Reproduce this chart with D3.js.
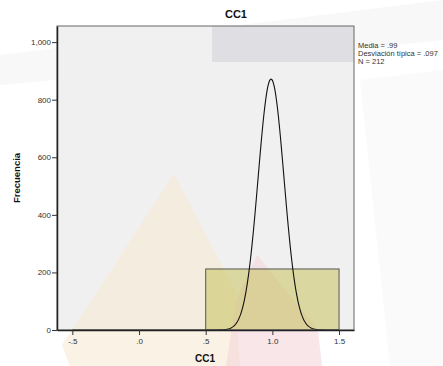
<!DOCTYPE html>
<html><head><meta charset="utf-8">
<script src="https://cdn.jsdelivr.net/npm/d3@7"></script>
<style>body{margin:0;background:#fff}svg{display:block}text{font-family:"Liberation Sans",Arial,sans-serif}</style>
</head><body>
<script>
// Data
const binStarts = [0.5];
const binEnds = [1.5];
const binCounts = [212];
const xTicks = [-0.5, 0, 0.5, 1.0, 1.5];
const xTickLabels = ["-.5", ".0", ".5", "1.0", "1.5"];
const yTicks = [0, 200, 400, 600, 800, 1000];
const yTickLabels = ["0", "200", "400", "600", "800", "1,000"];
const statMean = 0.99, statSD = 0.097, statN = 212;
const legendLines = ["Media = .99", "Desviación típica = .097", "N = 212"];

const W = 443, H = 366;
const svg = d3.select("body").append("svg").attr("width", W).attr("height", H);
const L = 57, R = 354, T = 26, B = 330;
const x = d3.scaleLinear().domain([-0.615, 1.612]).range([L, R]);
const y = d3.scaleLinear().domain([0, 1056]).range([B, T]);

// faint watermark background
svg.append("rect").attr("x", 0).attr("y", 0).attr("width", W).attr("height", H).attr("fill", "#fff");
svg.append("polygon").attr("points", "0,55 200,30 443,0 443,40 160,70 0,85").attr("fill", "#f8f8f8");
svg.append("polygon").attr("points", "360,80 443,70 443,366 390,366").attr("fill", "#fafafa");

// plot area
svg.append("rect").attr("x", L).attr("y", T).attr("width", R - L).attr("height", B - T).attr("fill", "#f0f0f0");
svg.append("rect").attr("x", 212).attr("y", T).attr("width", R - 212).attr("height", 36).attr("fill", "#dfdfe3");
// watermark shapes
svg.append("polygon").attr("points", "174,174 235,290 240,366 70,366 62,345").attr("fill", "#f7e9d2").attr("opacity", 0.6);
svg.append("polygon").attr("points", "257,255 318,330 322,366 226,366 236,300").attr("fill", "#f5d6db").attr("opacity", 0.6);

// bars
svg.selectAll("rect.bar").data(binCounts).join("rect").attr("class", "bar")
  .attr("x", (d, i) => x(binStarts[i])).attr("y", d => y(d))
  .attr("width", (d, i) => x(binEnds[i]) - x(binStarts[i])).attr("height", d => y(0) - y(d))
  .attr("fill", "#c9c25e").attr("fill-opacity", 0.55).attr("stroke", "#555").attr("stroke-width", 1);

// normal curve from stats
const bw = binEnds[0] - binStarts[0];
const pts = d3.range(-0.5, 1.5001, 0.005).map(v => [v, statN * bw / (statSD * Math.sqrt(2 * Math.PI)) * Math.exp(-0.5 * ((v - statMean) / statSD) ** 2)]);
svg.append("path").datum(pts).attr("fill", "none").attr("stroke", "#111").attr("stroke-width", 1.1)
  .attr("d", d3.line().x(d => x(d[0])).y(d => y(d[1])));

// frame
svg.append("rect").attr("x", L).attr("y", T).attr("width", R - L).attr("height", B - T).attr("fill", "none").attr("stroke", "#666").attr("stroke-width", 1);

// axes
const yAxis = d3.axisLeft(y).tickValues(yTicks).tickFormat((d, i) => yTickLabels[i]).tickSize(5).tickSizeOuter(0);
const gy = svg.append("g").attr("transform", `translate(${L},0)`).call(yAxis);
const xAxis = d3.axisBottom(x).tickValues(xTicks).tickFormat((d, i) => xTickLabels[i]).tickSize(5).tickSizeOuter(0);
const gx = svg.append("g").attr("transform", `translate(0,${B})`).call(xAxis);
[gy, gx].forEach(g => {
  g.select(".domain").attr("stroke", "#222").attr("stroke-width", 1.5);
  g.selectAll(".tick line").attr("stroke", "#333");
  g.selectAll(".tick text").attr("fill", "#333").style("font-size", "8px").style("font-family", '"Liberation Sans",Arial,sans-serif');
});
gy.selectAll(".tick text").attr("x", -6);
gx.selectAll(".tick text").attr("y", 8);

// titles
svg.append("text").attr("x", 236).attr("y", 18).attr("text-anchor", "middle").style("font-size", "11px").style("font-weight", "bold").attr("fill", "#111").text("CC1");
svg.append("text").attr("x", 205).attr("y", 362).attr("text-anchor", "middle").style("font-size", "10px").style("font-weight", "bold").attr("fill", "#111").text("CC1");
svg.append("text").attr("transform", "translate(20,178) rotate(-90)").attr("text-anchor", "middle").style("font-size", "9.5px").style("font-weight", "bold").attr("fill", "#111").text("Frecuencia");

// legend
svg.selectAll("text.leg").data(legendLines).join("text").attr("class", "leg")
  .attr("x", 358).attr("y", (d, i) => 48 + i * 8).style("font-size", "7.5px").attr("fill", "#333").text(d => d);
</script>
</body></html>
